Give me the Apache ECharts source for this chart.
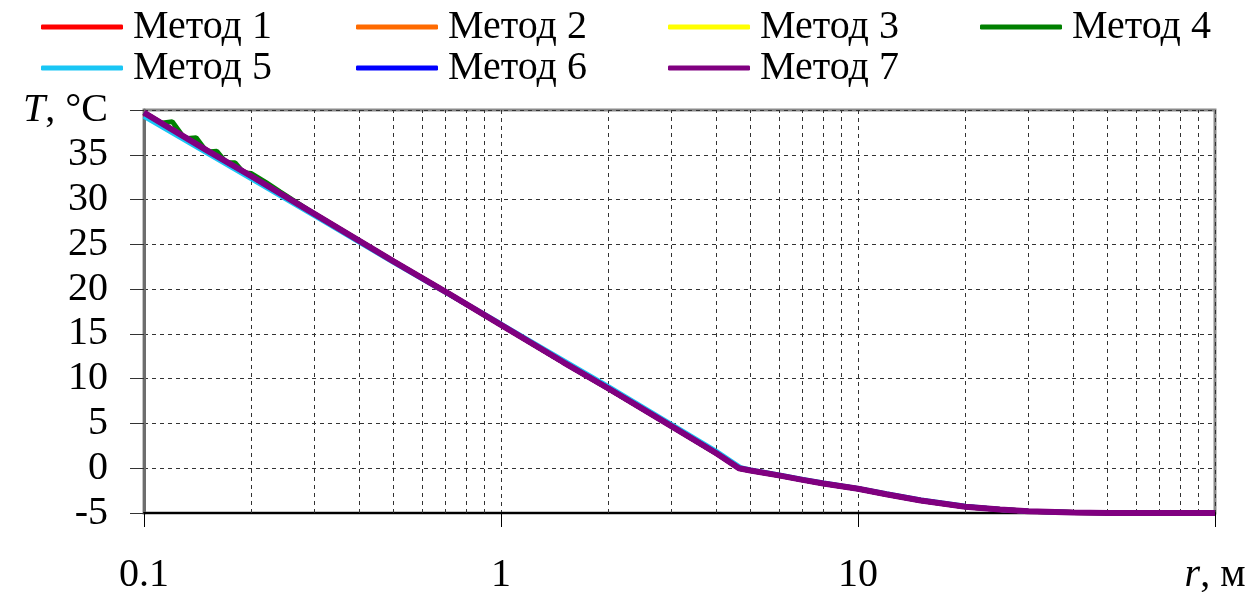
<!DOCTYPE html>
<html>
<head>
<meta charset="utf-8">
<script src="https://cdn.jsdelivr.net/npm/echarts@6/dist/echarts.min.js"></script>
<style>
  html, body { margin: 0; padding: 0; background: #fff; }
  #chart { width: 1248px; height: 592px; }
</style>
</head>
<body>
<div id="chart"></div>
<script>
// radius, m
const rMain = [0.1, 0.12, 0.15, 0.2, 0.3, 0.5, 0.7, 1, 1.5, 2, 3, 4, 4.64, 5, 6, 7, 8, 10, 12, 15, 20, 25, 30, 40, 50, 70, 100]
// temperature, °C
const tMain = [39.7, 37.8, 35.5, 32.6, 28.4, 23.1, 19.7, 16.0, 11.8, 8.9, 4.7, 1.7, 0.0, -0.25, -0.8, -1.3, -1.7, -2.3, -2.9, -3.6, -4.3, -4.6, -4.8, -4.95, -5, -5, -5]

// method 4 oscillates a little near the well
const rM4 = [0.1, 0.11, 0.12, 0.13, 0.14, 0.15, 0.16, 0.17, 0.18, 0.19, 0.2, 0.22, 0.24, 0.26, 0.3, 0.5, 0.7, 1, 1.5, 2, 3, 4, 4.64, 5, 6, 7, 8, 10, 12, 15, 20, 25, 30, 40, 50, 70, 100]
const tM4 = [39.7, 38.5, 38.7, 36.8, 36.9, 35.3, 35.4, 34.1, 34.1, 33.0, 32.9, 31.9, 30.9, 30.0, 28.4, 23.1, 19.7, 16.0, 11.8, 8.9, 4.7, 1.7, 0.0, -0.25, -0.8, -1.3, -1.7, -2.3, -2.9, -3.6, -4.3, -4.6, -4.8, -4.95, -5, -5, -5]

// method 5 slightly different slope
const rM5 = [0.1, 0.2, 0.3, 0.5, 1, 2, 3, 4, 4.7, 5, 6, 7, 8, 10, 12, 15, 20, 25, 30, 40, 50, 70, 100]
const tM5 = [39.3, 32.3, 28.2, 23.0, 16.1, 9.1, 4.9, 1.9, 0.05, -0.2, -0.75, -1.25, -1.65, -2.25, -2.85, -3.55, -4.25, -4.6, -4.8, -4.95, -5, -5, -5]

const methods = ['Метод 1', 'Метод 2', 'Метод 3', 'Метод 4', 'Метод 5', 'Метод 6', 'Метод 7']
const colors = ['#ff0000', '#ff6a00', '#ffff00', '#008000', '#19c6f5', '#0000ff', '#800080']

// minor log grid positions
const minorGrid = [0.2, 0.3, 0.4, 0.5, 0.6, 0.7, 0.8, 0.9, 2, 3, 4, 5, 6, 7, 8, 9, 20, 30, 40, 50, 60, 70, 80, 90]

const FONT = '"Liberation Serif", "DejaVu Serif", serif'
const FS = 40
const pairs = (xs, ys) => xs.map((x, i) => [x, ys[i]])

const seriesData = [
  pairs(rMain, tMain),
  pairs(rMain, tMain),
  pairs(rMain, tMain),
  pairs(rM4, tM4),
  pairs(rM5, tM5),
  pairs(rMain, tMain),
  pairs(rMain, tMain),
]
const widths = [5, 5, 5, 5, 5, 5, 6]

const legendPos = [
  [41, 7], [356, 7], [668, 7], [980, 7],
  [41, 48], [356, 48], [668, 48],
]

const chart = echarts.init(document.getElementById('chart'))

const series = methods.map((name, i) => ({
  name,
  type: 'line',
  data: seriesData[i],
  symbol: 'none',
  smooth: false,
  z: 3 + i,
  lineStyle: { width: widths[i], color: colors[i] },
  itemStyle: { color: colors[i] },
  animation: false,
}))

series.unshift({
  name: 'grid',
  type: 'line',
  data: [],
  symbol: 'none',
  z: 1,
  silent: true,
  animation: false,
  markLine: {
    silent: true,
    symbol: ['none', 'none'],
    label: { show: false },
    animation: false,
    lineStyle: { type: [4, 4], color: '#333', width: 1 },
    data: minorGrid.map(v => ({ xAxis: v })),
  },
})

chart.setOption({
  animation: false,
  backgroundColor: '#fff',
  legend: methods.map((name, i) => ({
    data: [name],
    left: legendPos[i][0],
    top: legendPos[i][1],
    icon: 'roundRect',
    itemWidth: 82,
    itemHeight: 5,
    padding: 0,
    textStyle: { fontFamily: FONT, fontSize: FS, color: '#000', padding: [0, 0, 0, 5] },
  })),
  grid: {
    left: 144, right: 33, top: 110, bottom: 79,
    containLabel: false,
    outerBoundsMode: 'none',
    show: true, borderColor: '#8a8a8a', borderWidth: 3,
  },
  xAxis: {
    type: 'log',
    logBase: 10,
    min: 0.1,
    max: 100,
    axisLine: { show: true, onZero: false, lineStyle: { color: '#000', width: 2 } },
    axisTick: { show: true, length: 14, lineStyle: { color: '#000', width: 1 } },
    splitLine: { show: true, lineStyle: { type: [4, 4], color: '#333', width: 1 } },
    axisLabel: {
      margin: 42,
      fontFamily: FONT,
      fontSize: FS,
      color: '#000',
      formatter: v => {
        if (Math.abs(v - 100) < 1e-6) return '{i|r}, м'
        if (Math.abs(v - 0.1) < 1e-9) return '0.1'
        return String(Math.round(v))
      },
      rich: { i: { fontFamily: FONT, fontSize: FS, fontStyle: 'italic', color: '#000' } },
    },
  },
  yAxis: {
    type: 'value',
    min: -5,
    max: 40,
    interval: 5,
    axisLine: { show: true, lineStyle: { color: '#6e6e6e', width: 3 } },
    axisTick: { show: true, length: 14, lineStyle: { color: '#333', width: 1 } },
    splitLine: { show: true, lineStyle: { type: [4, 4], color: '#333', width: 1 } },
    axisLabel: {
      margin: 36,
      fontFamily: FONT,
      fontSize: FS,
      color: '#000',
      formatter: v => (v === 40 ? '{i|T}, °C' : String(v)),
      rich: { i: { fontFamily: FONT, fontSize: FS, fontStyle: 'italic', color: '#000' } },
    },
  },
  series,
})
</script>
</body>
</html>
